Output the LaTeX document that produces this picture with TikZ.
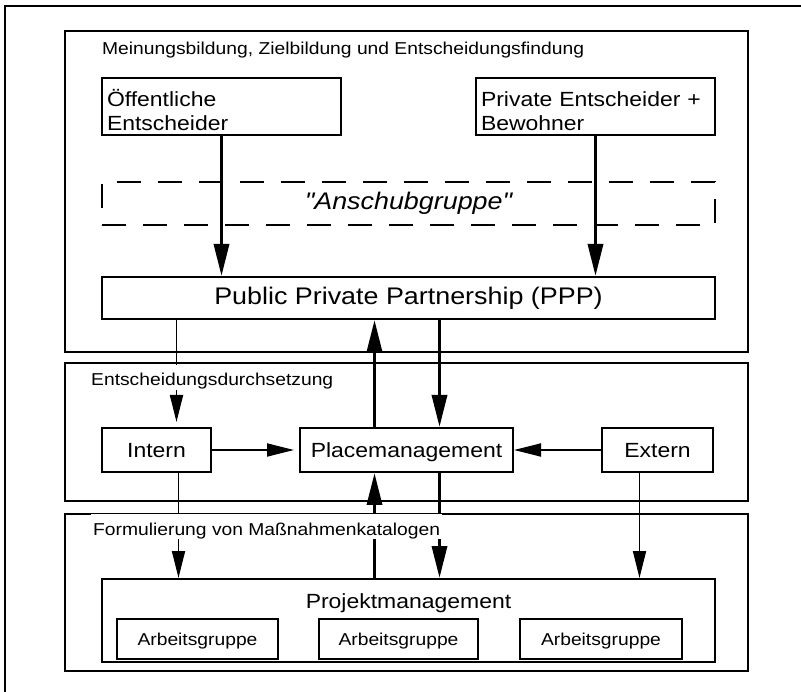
\documentclass[tikz,border=0pt]{standalone}
\usepackage{fontspec}
\setmainfont{Liberation Sans}[FakeStretch=1.12, Ligatures=TeXOff]
\usepackage{tikz}
\usetikzlibrary{positioning}
\usetikzlibrary{arrows.meta}

\begin{document}
\begin{tikzpicture}[x=1pt, y=-1pt,
      sect style/.style={rectangle,draw=black,line width=1.8pt,outer
        sep=0pt,anchor=north west},
      head style/.style={fill=white,inner xsep=2pt,inner ysep=2pt,text
        height=19pt,text depth=2pt,anchor=base west,font=\fontsize{17.2}{20}\selectfont},
      top style/.style={rectangle,draw=black,line width=1.7pt,outer sep=0pt,
        inner xsep=5pt,inner ysep=0pt,text width=229pt,text height=29pt,text
        depth=28pt,align=left,font=\fontsize{20.5}{24}\selectfont},
      box style/.style={rectangle,draw=black,line width=1.7pt,outer sep=0pt,
        inner sep=0pt,minimum height=44pt,text height=15pt,text
        depth=0pt,font=\fontsize{20.5}{24}\selectfont},
      wide style/.style={rectangle,draw=black,line width=1.7pt,outer sep=0pt,
        inner sep=0pt,minimum width=613pt,font=\fontsize{24}{28}\selectfont},
      group style/.style={rectangle,draw=black,line width=1.7pt,outer sep=0pt,
        inner sep=0pt,minimum height=40pt,text height=12.6pt,text
        depth=0pt,font=\fontsize{17.2}{20}\selectfont},
      thick arrow/.style={line width=3.4pt,-{Triangle[length=32pt,width=15pt]},shorten >=1pt},
      thin arrow/.style={line width=1.8pt,-{Triangle[length=27pt,width=13pt]},shorten >=1pt}
      ]

      \useasboundingbox (0,0) rectangle (801,692);
      \draw[line width=1.8pt] (5,6) rectangle (808,699);

      \node[sect style, minimum width=683pt, minimum height=321pt] (meinung) at (65,31) {};
      \node[sect style, minimum width=683pt, minimum height=138pt] (durchsetzung) at (65,363) {};
      \node[sect style, minimum width=683pt, minimum height=157pt] (formulierung) at (65,514) {};

      \node[wide style, minimum height=42pt] (ppp) at (408.5,298) {Public Private Partnership (PPP)};
      \node[wide style, minimum height=43pt, line width=1.4pt, dash pattern=on 24pt off 17pt,
        font=\fontsize{24}{28}\selectfont\itshape, above=52pt of ppp] (anschub) {"Anschubgruppe"};

      \node[top style, above=47pt of anschub.north west, anchor=south west] (oeff) {Öffentliche\\Entscheider};
      \node[top style, above=47pt of anschub.north east, anchor=south east] (priv) {Private Entscheider +\\Bewohner};

      \node[box style, minimum width=213pt, below=109pt of ppp, xshift=-2pt] (place) {Placemanagement};
      \node[box style, minimum width=109pt, left=89pt of place] (intern) {Intern};
      \node[box style, minimum width=111pt, right=89pt of place] (extern) {Extern};

      \node[wide style, minimum height=83pt, text height=29pt, text depth=54pt,
        font=\fontsize{20.5}{24}\selectfont, below=260pt of ppp] (projekt) {Projektmanagement};
      \node[group style, minimum width=159pt, above=3pt of projekt.south, xshift=-10pt] (ag2) {Arbeitsgruppe};
      \node[group style, minimum width=161pt, left=41pt of ag2] (ag1) {Arbeitsgruppe};
      \node[group style, minimum width=162pt, right=42pt of ag2] (ag3) {Arbeitsgruppe};

      \draw[thick arrow] (oeff.south) -- (oeff.south |- ppp.north);
      \draw[thick arrow] (priv.south) -- (priv.south |- ppp.north);

      \draw[thin arrow, shorten >=6pt] ([xshift=20pt]intern.north |- ppp.south) -- ([xshift=20pt]intern.north);
      \draw[thin arrow, shorten >=6pt] (intern) -- (place);
      \draw[thin arrow] (extern) -- (place);
      \draw[thick arrow] ([xshift=-32pt]place.north) -- ([xshift=-32pt]place.north |- ppp.south);
      \draw[thick arrow] ([xshift=33pt]place.north |- ppp.south) -- ([xshift=33pt]place.north);

      \draw[thick arrow] ([xshift=-32pt]place.south |- projekt.north) -- ([xshift=-32pt]place.south);
      \draw[thick arrow] ([xshift=33pt]place.south) -- ([xshift=33pt]place.south |- projekt.north);
      \draw[thin arrow] ([xshift=22pt]intern.south) -- ([xshift=22pt]intern.south |- projekt.north);
      \draw[thin arrow] ([xshift=-18pt]extern.south) -- ([xshift=-18pt]extern.south |- projekt.north);

      % section headings cover the lines
      \node[head style] (meinunghead) at (100,55) {Meinungsbildung, Zielbildung und Entscheidungsfindung};
      \node[head style] (durchsetzunghead) at (89,386) {Entscheidungsdurchsetzung};
      \node[head style] (formulierunghead) at (91,535) {Formulierung von Maßnahmenkatalogen};

    \end{tikzpicture}
\end{document}
